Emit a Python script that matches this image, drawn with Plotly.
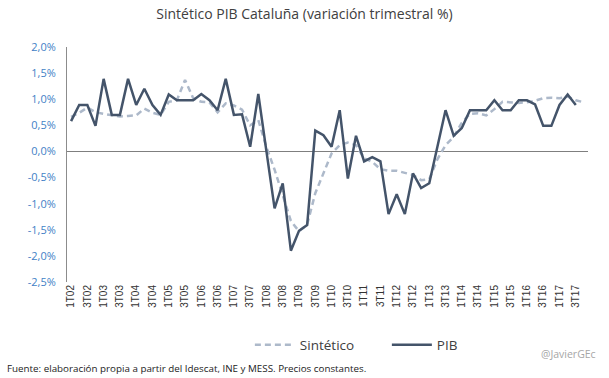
import plotly.graph_objects as go

quarters = ["1T02","2T02","3T02","4T02","1T03","2T03","3T03","4T03",
            "1T04","2T04","3T04","4T04","1T05","2T05","3T05","4T05",
            "1T06","2T06","3T06","4T06","1T07","2T07","3T07","4T07",
            "1T08","2T08","3T08","4T08","1T09","2T09","3T09","4T09",
            "1T10","2T10","3T10","4T10","1T11","2T11","3T11","4T11",
            "1T12","2T12","3T12","4T12","1T13","2T13","3T13","4T13",
            "1T14","2T14","3T14","4T14","1T15","2T15","3T15","4T15",
            "1T16","2T16","3T16","4T16","1T17","2T17","3T17","4T17"]

shown_ticks = ["1T02","3T02","1T03","3T03","1T04","3T04","1T05","3T05",
               "1T06","3T06","1T07","3T07","1T08","3T08","1T09","3T09",
               "1T10","3T10","1T11","3T11","1T12","3T12","1T13","3T13",
               "1T14","3T14","1T15","3T15","1T16","3T16","1T17","3T17"]

sintetico = [0.66,0.74,0.84,0.75,0.72,0.70,0.67,0.68,0.69,0.82,
             0.74,0.70,0.95,0.98,1.37,1.02,0.95,0.94,0.75,0.92,
             0.88,0.80,0.50,0.60,0.08,-0.35,-0.84,-1.33,-1.53,-1.40,
             -0.80,-0.42,-0.04,0.12,0.17,0.12,-0.13,-0.20,-0.34,-0.37,
             -0.37,-0.41,-0.45,-0.55,-0.53,-0.15,0.12,0.28,0.55,0.72,
             0.73,0.69,0.81,0.95,0.94,0.93,0.94,0.97,1.02,1.03,
             1.02,1.05,0.98,0.94]

pib = [0.58,0.89,0.89,0.49,1.39,0.70,0.70,1.39,0.89,1.20,
       0.89,0.70,1.09,0.98,0.98,0.98,1.10,0.98,0.79,1.39,
       0.70,0.71,0.09,1.10,0.00,-1.09,-0.61,-1.90,-1.52,-1.41,
       0.40,0.31,0.09,0.79,-0.52,0.30,-0.19,-0.11,-0.19,-1.20,
       -0.82,-1.20,-0.42,-0.70,-0.61,0.10,0.79,0.30,0.45,0.79,
       0.79,0.79,0.98,0.79,0.79,0.98,0.98,0.90,0.49,0.49,
       0.89,1.09,0.89]

y_tickvals = [-2.5,-2.0,-1.5,-1.0,-0.5,0.0,0.5,1.0,1.5,2.0]
y_ticktext = ["-2,5%","-2,0%","-1,5%","-1,0%","-0,5%","0,0%","0,5%","1,0%","1,5%","2,0%"]

FONT = "Open Sans"

fig = go.Figure()
fig.add_trace(go.Scatter(
    x=quarters[:len(sintetico)], y=sintetico, name="Sintético", mode="lines",
    line=dict(color="#ADB9CA", width=2.5, dash="6px,4px")))
fig.add_trace(go.Scatter(
    x=quarters[:len(pib)], y=pib, name="PIB", mode="lines",
    line=dict(color="#44546A", width=2.5)))

fig.update_layout(
    width=609, height=378,
    margin=dict(l=67, r=21, t=47, b=96, autoexpand=False),
    paper_bgcolor="white", plot_bgcolor="white",
    font=dict(family=FONT, color="#404040"),
    title=dict(text="Sintético PIB Cataluña (variación trimestral %)",
               x=0.5, xanchor="center", y=0.962, yanchor="middle",
               font=dict(family=FONT, size=14, color="#404040")),
    showlegend=True,
    legend=dict(orientation="h", x=0.351, xanchor="left", y=-0.268, yanchor="middle",
                font=dict(family=FONT, size=13.5, color="#404040"),
                bgcolor="rgba(0,0,0,0)", itemwidth=40,
                entrywidth=82, entrywidthmode="pixels"),
    xaxis=dict(type="category", categoryorder="array", categoryarray=quarters,
               range=[-0.5, len(quarters) - 0.5], automargin=False,
               tickmode="array", tickvals=shown_ticks, ticktext=shown_ticks,
               tickangle=-90, showgrid=False, showline=False, zeroline=False,
               ticks="", tickfont=dict(family="Liberation Sans", size=10, color="#333333")),
    yaxis=dict(range=[-2.5, 2.0], tickmode="array", tickvals=y_tickvals, ticktext=y_ticktext,
               automargin=False,
               showgrid=False, showline=True, linecolor="#8c8c8c", linewidth=1,
               zeroline=True, zerolinecolor="#7f7f7f", zerolinewidth=1,
               ticks="", ticklabelstandoff=8,
               tickfont=dict(family=FONT, size=11, color="#3F7FC6")),
    annotations=[
        dict(text="Fuente: elaboración propia a partir del Idescat, INE y MESS. Precios constantes.",
             xref="paper", yref="paper", x=-0.119, y=-0.366, xanchor="left", yanchor="middle",
             showarrow=False, font=dict(family=FONT, size=9.8, color="#222222")),
        dict(text="@JavierGEc", xref="paper", yref="paper", x=1.02, y=-0.306,
             xanchor="right", yanchor="middle", showarrow=False,
             font=dict(family=FONT, size=10.5, color="#A6A6A6")),
    ],
)

fig.write_html("out.html",
               config={"displayModeBar": False},
               post_script="document.body.style.margin='0';document.body.style.padding='0';")
